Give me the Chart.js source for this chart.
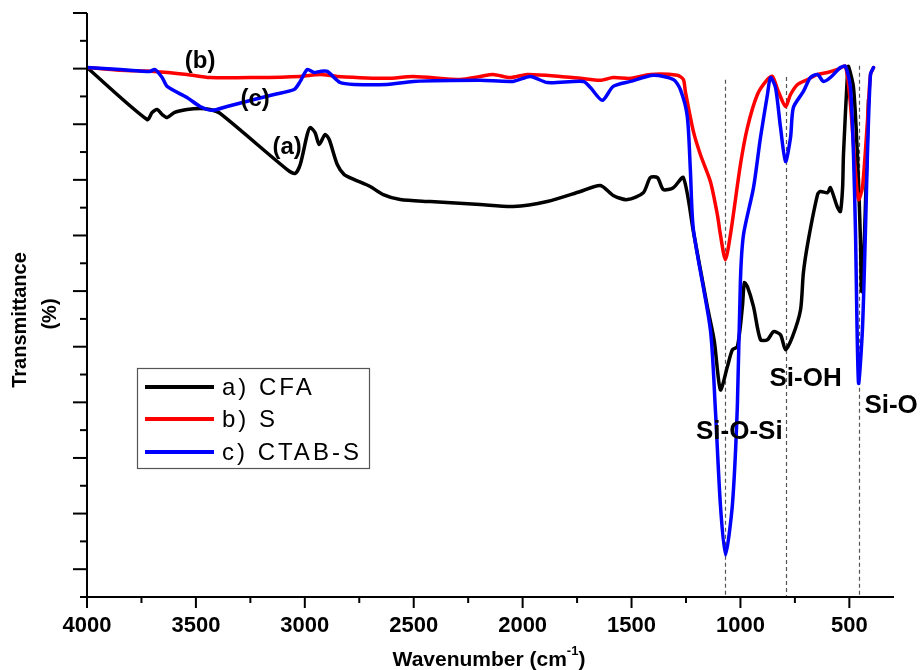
<!DOCTYPE html>
<html>
<head>
<meta charset="utf-8">
<script src="https://cdn.jsdelivr.net/npm/chart.js@4.4.1/dist/chart.umd.min.js"></script>
<style>
  body { margin: 0; background: #fff; }
  canvas { display: block; }
</style>
</head>
<body>
<canvas id="ftir" width="921" height="670"></canvas>
<script>
// wavenumber (cm-1) and transmittance (arbitrary units)
const wnCFA = [4000, 3724, 3701, 3678, 3655, 3632, 3600, 3541, 3481, 3435, 3389, 3081, 3044, 3021, 2989, 2976, 2953, 2934, 2907, 2888, 2851, 2819, 2773, 2700, 2640, 2562, 2424, 2195, 2043, 1887, 1735, 1643, 1584, 1519, 1446, 1414, 1381, 1354, 1308, 1262, 1216, 1152, 1120, 1092, 1060, 1037, 1014, 991, 982, 968, 940, 908, 876, 848, 816, 793, 761, 724, 711, 688, 646, 633, 600, 587, 554, 541, 531, 527, 508, 504, 481, 463, 449, 444, 431, 412];
const trCFA = [190.4, 171.7, 174.2, 175.3, 173.5, 172.4, 174.2, 175.3, 175.7, 175.3, 173.9, 153.7, 152.3, 155.5, 166.3, 168.8, 167.0, 162.7, 166.3, 164.5, 155.5, 151.9, 150.1, 147.6, 144.7, 142.9, 142.2, 141.1, 140.4, 142.2, 145.8, 148.0, 144.4, 142.9, 145.4, 150.8, 150.8, 146.5, 147.2, 150.8, 131.4, 104.4, 92.0, 74.5, 82.8, 88.9, 90.0, 104.4, 113.0, 111.6, 104.4, 92.5, 92.5, 95.4, 94.3, 88.9, 93.6, 103.3, 116.6, 128.5, 144.7, 145.8, 145.4, 147.2, 140.0, 138.6, 147.2, 159.1, 189.0, 190.8, 183.2, 159.1, 128.5, 109.8, 128.5, 178.9];

const wnS = [4000, 3848, 3692, 3541, 3435, 3233, 3021, 2930, 2851, 2622, 2502, 2286, 2195, 2135, 2057, 1979, 1827, 1735, 1643, 1584, 1505, 1414, 1290, 1262, 1253, 1216, 1184, 1138, 1106, 1092, 1069, 1046, 1000, 968, 922, 876, 853, 826, 793, 770, 738, 692, 646, 600, 554, 518, 495, 472, 458, 440, 417, 403, 389];
const trS = [190.4, 189.4, 189.0, 187.9, 186.8, 186.8, 187.2, 187.9, 187.2, 186.5, 187.2, 186.1, 187.2, 187.9, 186.8, 187.9, 187.2, 186.5, 185.8, 186.8, 186.5, 187.9, 187.6, 186.1, 181.8, 167.4, 159.1, 149.4, 137.5, 130.3, 121.3, 130.3, 155.5, 168.8, 180.7, 186.1, 187.2, 181.8, 176.4, 180.7, 184.3, 186.1, 187.9, 188.6, 189.7, 190.8, 177.1, 153.0, 142.9, 147.2, 171.0, 187.9, 190.4];

const wnCTAB = [4000, 3848, 3711, 3688, 3655, 3632, 3541, 3481, 3426, 3357, 3233, 3141, 3049, 3021, 2989, 2957, 2930, 2897, 2838, 2773, 2622, 2502, 2195, 2043, 1965, 1887, 1721, 1689, 1634, 1584, 1505, 1400, 1308, 1276, 1244, 1230, 1216, 1138, 1115, 1092, 1069, 1037, 1014, 1000, 986, 940, 908, 876, 862, 839, 816, 793, 770, 757, 711, 679, 646, 619, 587, 541, 518, 495, 481, 472, 458, 440, 426, 417, 403, 389];
const trCTAB = [190.4, 189.7, 189.0, 189.7, 186.8, 183.6, 179.6, 176.4, 175.0, 176.4, 178.9, 180.7, 182.5, 185.4, 189.7, 188.6, 189.0, 189.0, 185.0, 184.3, 184.3, 185.4, 185.8, 185.4, 187.2, 185.0, 185.4, 183.2, 178.6, 183.6, 185.4, 187.6, 186.1, 182.5, 172.8, 153.7, 132.1, 96.1, 67.3, 33.1, 15.1, 33.1, 69.1, 114.1, 130.3, 147.2, 165.2, 180.7, 186.8, 183.2, 168.8, 156.6, 165.2, 176.0, 181.8, 186.8, 187.9, 185.4, 186.8, 190.4, 190.8, 183.2, 159.1, 132.1, 77.0, 96.1, 132.1, 159.1, 187.9, 190.4];

const seriesNames = ['a) CFA', 'b) S', 'c) CTAB-S'];
const seriesColors = ['#000000', '#ff0000', '#0000ff'];
const xTicks = [4000, 3500, 3000, 2500, 2000, 1500, 1000, 500];
const bandLines = [1069, 789, 454];
const bandTops = [186, 187, 191];

function pts(xs, ys) {
    return xs.map((x, i) => ({ x: x, y: ys[i] }));
}

const fontB = '"Liberation Sans", Arial, sans-serif';

const overlay = {
    id: 'overlay',
    beforeDatasetsDraw(chart) {
        const ctx = chart.ctx;
        const xs = chart.scales.x, ys = chart.scales.y;
        ctx.save();
        ctx.strokeStyle = '#555';
        ctx.lineWidth = 1.2;
        ctx.setLineDash([4, 3]);
        bandLines.forEach((wn, i) => {
            const px = Math.round(xs.getPixelForValue(wn)) + 0.5;
            ctx.beginPath();
            ctx.moveTo(px, ys.getPixelForValue(bandTops[i]));
            ctx.lineTo(px, ys.getPixelForValue(0));
            ctx.stroke();
        });
        ctx.restore();
    },
    afterDraw(chart) {
        const ctx = chart.ctx;
        const xs = chart.scales.x, ys = chart.scales.y;
        const a = chart.chartArea;
        ctx.save();
        ctx.strokeStyle = '#000';
        ctx.lineWidth = 2;
        ctx.setLineDash([]);

        // axis lines
        ctx.beginPath();
        ctx.moveTo(a.left, a.top);
        ctx.lineTo(a.left, a.bottom);
        ctx.moveTo(a.left - 7, a.bottom);
        ctx.lineTo(a.right, a.bottom);
        ctx.stroke();

        // y ticks, no labels
        for (let v = 0; v <= 210; v += 10) {
            const py = ys.getPixelForValue(v);
            const major = (v / 10) % 2 === 1;
            ctx.beginPath();
            ctx.moveTo(a.left - (major ? 14 : 7), py);
            ctx.lineTo(a.left, py);
            ctx.stroke();
        }
        // x ticks
        for (let v = 4000; v >= 300; v -= 250) {
            const px = xs.getPixelForValue(v);
            const major = v % 500 === 0;
            ctx.beginPath();
            ctx.moveTo(px, a.bottom);
            ctx.lineTo(px, a.bottom + (major ? 11 : 6));
            ctx.stroke();
        }
        ctx.fillStyle = '#000';
        ctx.font = 'bold 22px ' + fontB;
        ctx.textAlign = 'center';
        ctx.textBaseline = 'middle';
        xTicks.forEach(v => ctx.fillText(String(v), xs.getPixelForValue(v), a.bottom + 29));

        // x title
        ctx.font = 'bold 21px ' + fontB;
        ctx.textAlign = 'left';
        const t1 = 'Wavenumber (cm';
        const w1 = ctx.measureText(t1).width;
        ctx.font = 'bold 13px ' + fontB;
        const wSup = ctx.measureText('-1').width;
        ctx.font = 'bold 21px ' + fontB;
        const w2 = ctx.measureText(')').width;
        let tx = 489 - (w1 + wSup + w2) / 2;
        const ty = 660;
        ctx.fillText(t1, tx, ty);
        ctx.font = 'bold 13px ' + fontB;
        ctx.fillText('-1', tx + w1, ty - 9);
        ctx.font = 'bold 21px ' + fontB;
        ctx.fillText(')', tx + w1 + wSup, ty);

        // y title
        ctx.save();
        ctx.translate(20, 320);
        ctx.rotate(-Math.PI / 2);
        ctx.textAlign = 'center';
        ctx.font = 'bold 20px ' + fontB;
        ctx.fillText('Transmittance', 0, 0);
        ctx.restore();
        ctx.save();
        ctx.translate(50, 314);
        ctx.rotate(-Math.PI / 2);
        ctx.textAlign = 'center';
        ctx.font = 'bold 20px ' + fontB;
        ctx.fillText('(%)', 0, 0);
        ctx.restore();

        // curve labels
        ctx.textAlign = 'center';
        ctx.font = 'bold 24px ' + fontB;
        ctx.fillText('(b)', xs.getPixelForValue(3481), ys.getPixelForValue(192.6));
        ctx.fillText('(c)', xs.getPixelForValue(3228), ys.getPixelForValue(178.9));
        ctx.fillText('(a)', xs.getPixelForValue(3081), ys.getPixelForValue(161.6));
        ctx.font = 'bold 26px ' + fontB;
        ctx.fillText('Si-O-Si', xs.getPixelForValue(1005), ys.getPixelForValue(59.4));
        ctx.fillText('Si-OH', xs.getPixelForValue(701), ys.getPixelForValue(78.5));
        ctx.textAlign = 'left';
        ctx.fillText('Si-O', xs.getPixelForValue(431), ys.getPixelForValue(68.8));

        // legend box
        ctx.lineWidth = 1.2;
        ctx.strokeStyle = '#555';
        ctx.strokeRect(137.5, 368.5, 232, 100);
        const rows = [387, 419, 452];
        ctx.font = '24px ' + fontB;
        ctx.letterSpacing = '3px';
        ctx.textBaseline = 'middle';
        seriesNames.forEach((name, i) => {
            ctx.strokeStyle = seriesColors[i];
            ctx.lineWidth = 4;
            ctx.beginPath();
            ctx.moveTo(145, rows[i]);
            ctx.lineTo(214, rows[i]);
            ctx.stroke();
            ctx.fillStyle = '#000';
            ctx.fillText(name, 222, rows[i] + 1);
        });
        ctx.restore();
    }
};

new Chart(document.getElementById('ftir'), {
    type: 'line',
    data: {
        datasets: [
            { label: seriesNames[0], data: pts(wnCFA, trCFA), borderColor: seriesColors[0], order: 2 },
            { label: seriesNames[1], data: pts(wnS, trS), borderColor: seriesColors[1], order: 1 },
            { label: seriesNames[2], data: pts(wnCTAB, trCTAB), borderColor: seriesColors[2], order: 0 }
        ]
    },
    options: {
        responsive: false,
        animation: false,
        layout: { padding: { left: 87, right: 27, top: 13, bottom: 73 } },
        elements: {
            line: { borderWidth: 3.5, tension: 0.25, borderJoinStyle: 'round', borderCapStyle: 'round', fill: false },
            point: { radius: 0 }
        },
        plugins: { legend: { display: false }, tooltip: { enabled: false } },
        scales: {
            x: { type: 'linear', reverse: true, min: 295, max: 4000, display: false },
            y: { min: 0, max: 210, display: false }
        }
    },
    plugins: [overlay]
});
</script>
</body>
</html>
